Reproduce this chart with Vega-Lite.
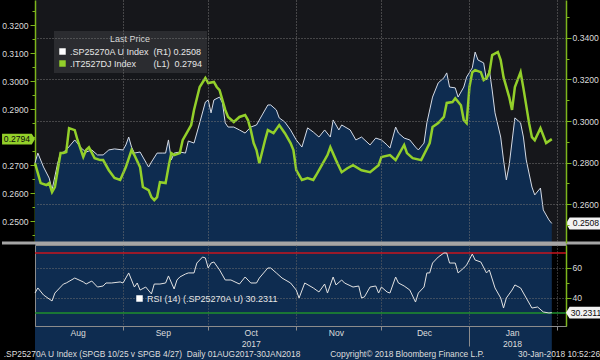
{
"$schema": "https://vega.github.io/schema/vega-lite/v6.json",
"background": "#000000",
"padding": 0,
"autosize": {"type": "pad"},
"bounds": "flush",
"spacing": 2,
"config": {
  "font": "Liberation Sans, Arial, sans-serif",
  "view": {"stroke": null},
  "axis": {"labelColor": "#dcdcdc", "labelFontSize": 8.6, "title": null}
},
"datasets": {
"sp": [{"date":"2017/08/01","value":0.2798},{"date":"2017/08/02","value":0.2846},{"date":"2017/08/04","value":0.2779},{"date":"2017/08/06","value":0.2726},{"date":"2017/08/07","value":0.2669},{"date":"2017/08/09","value":0.2798},{"date":"2017/08/10","value":0.2846},{"date":"2017/08/11","value":0.2851},{"date":"2017/08/12","value":0.2861},{"date":"2017/08/15","value":0.2909},{"date":"2017/08/17","value":0.2875},{"date":"2017/08/18","value":0.2861},{"date":"2017/08/19","value":0.2851},{"date":"2017/08/21","value":0.2861},{"date":"2017/08/23","value":0.2837},{"date":"2017/08/25","value":0.2837},{"date":"2017/08/27","value":0.2861},{"date":"2017/08/29","value":0.2866},{"date":"2017/09/01","value":0.2861},{"date":"2017/09/02","value":0.2885},{"date":"2017/09/03","value":0.2923},{"date":"2017/09/04","value":0.2875},{"date":"2017/09/05","value":0.2846},{"date":"2017/09/07","value":0.2851},{"date":"2017/09/08","value":0.2827},{"date":"2017/09/10","value":0.2779},{"date":"2017/09/11","value":0.2803},{"date":"2017/09/13","value":0.2846},{"date":"2017/09/15","value":0.2846},{"date":"2017/09/16","value":0.2846},{"date":"2017/09/17","value":0.2909},{"date":"2017/09/18","value":0.2813},{"date":"2017/09/19","value":0.2846},{"date":"2017/09/21","value":0.2851},{"date":"2017/09/23","value":0.2846},{"date":"2017/09/24","value":0.2904},{"date":"2017/09/26","value":0.2894},{"date":"2017/09/28","value":0.2991},{"date":"2017/09/30","value":0.3091},{"date":"2017/10/01","value":0.3101},{"date":"2017/10/02","value":0.3039},{"date":"2017/10/03","value":0.3101},{"date":"2017/10/05","value":0.3115},{"date":"2017/10/06","value":0.3087},{"date":"2017/10/07","value":0.2991},{"date":"2017/10/08","value":0.2971},{"date":"2017/10/10","value":0.2971},{"date":"2017/10/12","value":0.2957},{"date":"2017/10/14","value":0.2942},{"date":"2017/10/15","value":0.2957},{"date":"2017/10/16","value":0.2971},{"date":"2017/10/18","value":0.2981},{"date":"2017/10/20","value":0.3029},{"date":"2017/10/22","value":0.3077},{"date":"2017/10/23","value":0.3077},{"date":"2017/10/25","value":0.3053},{"date":"2017/10/26","value":0.3015},{"date":"2017/10/28","value":0.2995},{"date":"2017/10/30","value":0.2957},{"date":"2017/11/01","value":0.2909},{"date":"2017/11/03","value":0.2875},{"date":"2017/11/05","value":0.2967},{"date":"2017/11/07","value":0.2947},{"date":"2017/11/09","value":0.2923},{"date":"2017/11/11","value":0.2957},{"date":"2017/11/13","value":0.2923},{"date":"2017/11/14","value":0.3005},{"date":"2017/11/16","value":0.2957},{"date":"2017/11/17","value":0.2981},{"date":"2017/11/20","value":0.2957},{"date":"2017/11/22","value":0.2909},{"date":"2017/11/24","value":0.2923},{"date":"2017/11/27","value":0.2885},{"date":"2017/11/29","value":0.2918},{"date":"2017/12/01","value":0.2909},{"date":"2017/12/03","value":0.2885},{"date":"2017/12/04","value":0.2870},{"date":"2017/12/06","value":0.2971},{"date":"2017/12/07","value":0.2942},{"date":"2017/12/09","value":0.2918},{"date":"2017/12/11","value":0.2909},{"date":"2017/12/13","value":0.2875},{"date":"2017/12/14","value":0.2861},{"date":"2017/12/16","value":0.2894},{"date":"2017/12/17","value":0.2991},{"date":"2017/12/19","value":0.3115},{"date":"2017/12/21","value":0.3183},{"date":"2017/12/23","value":0.3207},{"date":"2017/12/24","value":0.3231},{"date":"2017/12/25","value":0.3163},{"date":"2017/12/27","value":0.3159},{"date":"2017/12/28","value":0.3115},{"date":"2017/12/30","value":0.3163},{"date":"2017/12/31","value":0.3211},{"date":"2018/01/02","value":0.3255},{"date":"2018/01/03","value":0.3331},{"date":"2018/01/04","value":0.3293},{"date":"2018/01/06","value":0.3279},{"date":"2018/01/07","value":0.3197},{"date":"2018/01/08","value":0.3245},{"date":"2018/01/09","value":0.3149},{"date":"2018/01/10","value":0.3039},{"date":"2018/01/12","value":0.2923},{"date":"2018/01/13","value":0.2813},{"date":"2018/01/14","value":0.2717},{"date":"2018/01/15","value":0.2789},{"date":"2018/01/17","value":0.3015},{"date":"2018/01/19","value":0.2991},{"date":"2018/01/20","value":0.2923},{"date":"2018/01/21","value":0.2813},{"date":"2018/01/23","value":0.2683},{"date":"2018/01/24","value":0.2645},{"date":"2018/01/26","value":0.2678},{"date":"2018/01/27","value":0.2573},{"date":"2018/01/29","value":0.2525},{"date":"2018/01/30","value":0.2508}],
"it": [{"date":"2017/08/01","value":0.2708},{"date":"2017/08/03","value":0.2637},{"date":"2017/08/05","value":0.2630},{"date":"2017/08/06","value":0.2637},{"date":"2017/08/07","value":0.2605},{"date":"2017/08/08","value":0.2623},{"date":"2017/08/10","value":0.2744},{"date":"2017/08/11","value":0.2744},{"date":"2017/08/12","value":0.2748},{"date":"2017/08/13","value":0.2833},{"date":"2017/08/15","value":0.2826},{"date":"2017/08/16","value":0.2790},{"date":"2017/08/18","value":0.2730},{"date":"2017/08/19","value":0.2755},{"date":"2017/08/20","value":0.2765},{"date":"2017/08/22","value":0.2726},{"date":"2017/08/24","value":0.2719},{"date":"2017/08/25","value":0.2719},{"date":"2017/08/27","value":0.2683},{"date":"2017/08/29","value":0.2655},{"date":"2017/08/31","value":0.2648},{"date":"2017/09/02","value":0.2694},{"date":"2017/09/04","value":0.2755},{"date":"2017/09/05","value":0.2737},{"date":"2017/09/07","value":0.2694},{"date":"2017/09/08","value":0.2623},{"date":"2017/09/10","value":0.2612},{"date":"2017/09/11","value":0.2587},{"date":"2017/09/12","value":0.2576},{"date":"2017/09/13","value":0.2587},{"date":"2017/09/14","value":0.2640},{"date":"2017/09/16","value":0.2637},{"date":"2017/09/17","value":0.2694},{"date":"2017/09/18","value":0.2744},{"date":"2017/09/19","value":0.2737},{"date":"2017/09/21","value":0.2744},{"date":"2017/09/22","value":0.2790},{"date":"2017/09/24","value":0.2826},{"date":"2017/09/25","value":0.2844},{"date":"2017/09/26","value":0.2898},{"date":"2017/09/28","value":0.2980},{"date":"2017/09/30","value":0.3012},{"date":"2017/10/01","value":0.2994},{"date":"2017/10/03","value":0.2998},{"date":"2017/10/04","value":0.2980},{"date":"2017/10/05","value":0.2969},{"date":"2017/10/07","value":0.2898},{"date":"2017/10/08","value":0.2873},{"date":"2017/10/10","value":0.2855},{"date":"2017/10/12","value":0.2873},{"date":"2017/10/14","value":0.2880},{"date":"2017/10/15","value":0.2862},{"date":"2017/10/16","value":0.2826},{"date":"2017/10/17","value":0.2780},{"date":"2017/10/18","value":0.2755},{"date":"2017/10/19","value":0.2708},{"date":"2017/10/21","value":0.2790},{"date":"2017/10/22","value":0.2826},{"date":"2017/10/24","value":0.2815},{"date":"2017/10/26","value":0.2844},{"date":"2017/10/28","value":0.2815},{"date":"2017/10/30","value":0.2780},{"date":"2017/10/31","value":0.2755},{"date":"2017/11/01","value":0.2683},{"date":"2017/11/03","value":0.2648},{"date":"2017/11/05","value":0.2655},{"date":"2017/11/07","value":0.2648},{"date":"2017/11/08","value":0.2665},{"date":"2017/11/10","value":0.2701},{"date":"2017/11/12","value":0.2737},{"date":"2017/11/13","value":0.2765},{"date":"2017/11/15","value":0.2719},{"date":"2017/11/17","value":0.2676},{"date":"2017/11/19","value":0.2690},{"date":"2017/11/21","value":0.2701},{"date":"2017/11/24","value":0.2683},{"date":"2017/11/27","value":0.2676},{"date":"2017/11/30","value":0.2701},{"date":"2017/12/01","value":0.2730},{"date":"2017/12/04","value":0.2737},{"date":"2017/12/06","value":0.2719},{"date":"2017/12/09","value":0.2773},{"date":"2017/12/10","value":0.2744},{"date":"2017/12/12","value":0.2726},{"date":"2017/12/15","value":0.2719},{"date":"2017/12/18","value":0.2780},{"date":"2017/12/19","value":0.2837},{"date":"2017/12/21","value":0.2851},{"date":"2017/12/23","value":0.2873},{"date":"2017/12/24","value":0.2923},{"date":"2017/12/26","value":0.2926},{"date":"2017/12/27","value":0.2940},{"date":"2017/12/29","value":0.2915},{"date":"2017/12/30","value":0.2862},{"date":"2017/12/31","value":0.2851},{"date":"2018/01/01","value":0.2980},{"date":"2018/01/02","value":0.3033},{"date":"2018/01/03","value":0.3040},{"date":"2018/01/05","value":0.3033},{"date":"2018/01/06","value":0.3005},{"date":"2018/01/07","value":0.3012},{"date":"2018/01/08","value":0.3030},{"date":"2018/01/09","value":0.3094},{"date":"2018/01/11","value":0.3105},{"date":"2018/01/12","value":0.3076},{"date":"2018/01/13","value":0.3015},{"date":"2018/01/15","value":0.2944},{"date":"2018/01/16","value":0.2898},{"date":"2018/01/17","value":0.2980},{"date":"2018/01/19","value":0.3033},{"date":"2018/01/20","value":0.2976},{"date":"2018/01/22","value":0.2851},{"date":"2018/01/23","value":0.2801},{"date":"2018/01/24","value":0.2790},{"date":"2018/01/26","value":0.2833},{"date":"2018/01/28","value":0.2780},{"date":"2018/01/30","value":0.2794}],
"rsi": [{"date":"2017/08/01","value":43.3},{"date":"2017/08/02","value":46.7},{"date":"2017/08/04","value":42.0},{"date":"2017/08/07","value":38.0},{"date":"2017/08/08","value":43.3},{"date":"2017/08/11","value":49.3},{"date":"2017/08/12","value":50.0},{"date":"2017/08/15","value":53.3},{"date":"2017/08/18","value":50.7},{"date":"2017/08/19","value":49.3},{"date":"2017/08/21","value":51.3},{"date":"2017/08/23","value":47.3},{"date":"2017/08/25","value":48.0},{"date":"2017/08/26","value":50.0},{"date":"2017/08/28","value":50.0},{"date":"2017/08/31","value":50.7},{"date":"2017/09/01","value":50.0},{"date":"2017/09/03","value":56.7},{"date":"2017/09/05","value":47.3},{"date":"2017/09/06","value":50.0},{"date":"2017/09/07","value":45.3},{"date":"2017/09/09","value":47.3},{"date":"2017/09/11","value":42.7},{"date":"2017/09/12","value":49.3},{"date":"2017/09/14","value":49.3},{"date":"2017/09/16","value":50.0},{"date":"2017/09/17","value":54.7},{"date":"2017/09/19","value":46.0},{"date":"2017/09/20","value":52.0},{"date":"2017/09/21","value":54.0},{"date":"2017/09/23","value":56.0},{"date":"2017/09/24","value":56.7},{"date":"2017/09/26","value":56.7},{"date":"2017/09/27","value":63.3},{"date":"2017/09/29","value":67.3},{"date":"2017/09/30","value":66.7},{"date":"2017/10/01","value":60.0},{"date":"2017/10/02","value":63.3},{"date":"2017/10/03","value":64.0},{"date":"2017/10/05","value":58.7},{"date":"2017/10/07","value":52.0},{"date":"2017/10/09","value":52.0},{"date":"2017/10/12","value":49.3},{"date":"2017/10/14","value":54.0},{"date":"2017/10/16","value":50.0},{"date":"2017/10/18","value":50.0},{"date":"2017/10/19","value":53.3},{"date":"2017/10/22","value":60.0},{"date":"2017/10/23","value":60.0},{"date":"2017/10/25","value":56.7},{"date":"2017/10/27","value":53.3},{"date":"2017/10/30","value":50.0},{"date":"2017/11/01","value":45.3},{"date":"2017/11/02","value":40.0},{"date":"2017/11/04","value":50.0},{"date":"2017/11/07","value":46.7},{"date":"2017/11/09","value":44.0},{"date":"2017/11/11","value":49.3},{"date":"2017/11/12","value":43.3},{"date":"2017/11/14","value":54.0},{"date":"2017/11/15","value":48.7},{"date":"2017/11/17","value":52.0},{"date":"2017/11/18","value":50.0},{"date":"2017/11/21","value":47.3},{"date":"2017/11/23","value":48.0},{"date":"2017/11/24","value":40.0},{"date":"2017/11/25","value":40.7},{"date":"2017/11/27","value":47.3},{"date":"2017/11/29","value":48.0},{"date":"2017/11/30","value":43.3},{"date":"2017/12/01","value":47.3},{"date":"2017/12/03","value":44.0},{"date":"2017/12/04","value":43.3},{"date":"2017/12/06","value":54.0},{"date":"2017/12/07","value":50.0},{"date":"2017/12/09","value":48.0},{"date":"2017/12/11","value":45.3},{"date":"2017/12/13","value":37.3},{"date":"2017/12/14","value":43.3},{"date":"2017/12/16","value":47.3},{"date":"2017/12/17","value":56.7},{"date":"2017/12/18","value":56.7},{"date":"2017/12/19","value":63.3},{"date":"2017/12/21","value":67.3},{"date":"2017/12/23","value":70.0},{"date":"2017/12/24","value":70.0},{"date":"2017/12/25","value":63.3},{"date":"2017/12/27","value":63.3},{"date":"2017/12/28","value":56.7},{"date":"2017/12/30","value":60.0},{"date":"2017/12/31","value":62.0},{"date":"2018/01/02","value":69.3},{"date":"2018/01/03","value":65.3},{"date":"2018/01/05","value":64.0},{"date":"2018/01/07","value":56.7},{"date":"2018/01/08","value":58.7},{"date":"2018/01/10","value":46.7},{"date":"2018/01/12","value":40.0},{"date":"2018/01/13","value":33.3},{"date":"2018/01/14","value":40.0},{"date":"2018/01/16","value":45.3},{"date":"2018/01/17","value":48.7},{"date":"2018/01/19","value":46.7},{"date":"2018/01/21","value":40.0},{"date":"2018/01/23","value":33.3},{"date":"2018/01/25","value":34.0},{"date":"2018/01/27","value":30.7},{"date":"2018/01/29","value":30.0},{"date":"2018/01/30","value":30.23}]
},
"vconcat": [
{
  "width": 531,
  "height": 243,
  "view": {"fill": "#16171b", "stroke": null},
  "layer": [
    {
      "data": {"name": "sp"},
      "layer": [
        {
          "mark": {"type": "area", "color": "#0e2c50"},
          "encoding": {
            "x": {"field": "date", "type": "temporal", "scale": {"domain": [{"year":2017,"month":8,"date":1},{"year":2018,"month":2,"date":4}], "nice": false},
                  "axis": {"values": [{"year":2017,"month":9,"date":1},{"year":2017,"month":10,"date":1},{"year":2017,"month":11,"date":1},{"year":2017,"month":12,"date":1},{"year":2018,"month":1,"date":1},{"year":2018,"month":2,"date":1}],
                           "labels": false, "ticks": false, "grid": true, "gridDash": [1,2], "gridColor": "#767676", "domain": true, "domainColor": "#a5a5a5", "domainWidth": 3, "title": null, "zindex": 1}},
            "y": {"field": "value", "type": "quantitative", "scale": {"domain": [0.24142, 0.3581], "zero": false, "nice": false},
                  "axis": {"orient": "right", "values": [0.25, 0.26, 0.27, 0.28, 0.29, 0.30, 0.31, 0.32, 0.33, 0.34, 0.35], "format": ".4f",
                           "labelExpr": "round(datum.value * 100) % 2 == 0 ? datum.label : ''",
                           "grid": true, "gridDash": [1,2], "gridColor": "#767676",
                           "gridOpacity": {"condition": {"test": "round(datum.value * 100) % 2 == 0", "value": 1}, "value": 0},
                           "domainColor": "#7db61c", "domainWidth": 1.5, "tickColor": "#7db61c",
                           "tickSize": {"condition": {"test": "round(datum.value * 100) % 2 == 0", "value": 5}, "value": 3},
                           "labelPadding": 1, "labelOverlap": false, "title": null, "zindex": 1}}
          }
        },
        {
          "mark": {"type": "line", "color": "#d5dbe6", "strokeWidth": 1},
          "encoding": {
            "x": {"field": "date", "type": "temporal", "scale": {"domain": [{"year":2017,"month":8,"date":1},{"year":2018,"month":2,"date":4}], "nice": false},
                  "axis": {"values": [{"year":2017,"month":9,"date":1},{"year":2017,"month":10,"date":1},{"year":2017,"month":11,"date":1},{"year":2017,"month":12,"date":1},{"year":2018,"month":1,"date":1},{"year":2018,"month":2,"date":1}],
                           "labels": false, "ticks": false, "grid": true, "gridDash": [1,2], "gridColor": "#767676", "domain": true, "domainColor": "#a5a5a5", "domainWidth": 3, "title": null, "zindex": 1}},
            "y": {"field": "value", "type": "quantitative", "scale": {"domain": [0.24142, 0.3581], "zero": false, "nice": false},
                  "axis": {"orient": "right", "values": [0.25, 0.26, 0.27, 0.28, 0.29, 0.30, 0.31, 0.32, 0.33, 0.34, 0.35], "format": ".4f",
                           "labelExpr": "round(datum.value * 100) % 2 == 0 ? datum.label : ''",
                           "grid": true, "gridDash": [1,2], "gridColor": "#767676",
                           "gridOpacity": {"condition": {"test": "round(datum.value * 100) % 2 == 0", "value": 1}, "value": 0},
                           "domainColor": "#7db61c", "domainWidth": 1.5, "tickColor": "#7db61c",
                           "tickSize": {"condition": {"test": "round(datum.value * 100) % 2 == 0", "value": 5}, "value": 3},
                           "labelPadding": 1, "labelOverlap": false, "title": null, "zindex": 1}}
          }
        }
      ]
    },
    {
      "data": {"name": "it"},
      "mark": {"type": "line", "color": "#93d02a", "strokeWidth": 2.5},
      "encoding": {
        "x": {"field": "date", "type": "temporal", "scale": {"domain": [{"year":2017,"month":8,"date":1},{"year":2018,"month":2,"date":4}], "nice": false}},
        "y": {"field": "value", "type": "quantitative", "scale": {"domain": [0.24232, 0.32904], "zero": false, "nice": false},
              "axis": {"orient": "left", "values": [0.245, 0.25, 0.255, 0.26, 0.265, 0.27, 0.275, 0.28, 0.285, 0.29, 0.295, 0.30, 0.305, 0.31, 0.315, 0.32, 0.325], "format": ".4f",
                       "labelExpr": "(round(datum.value * 1000) % 10 == 0 && round(datum.value * 1000) != 280) ? datum.label : ''",
                       "grid": false, "domainColor": "#7db61c", "domainWidth": 1.5, "tickColor": "#7db61c",
                       "tickSize": {"condition": {"test": "round(datum.value * 1000) % 10 == 0", "value": 5}, "value": 3},
                       "labelPadding": 2, "labelOverlap": false, "title": null}}
      }
    },
    {
      "data": {"values": [{}]},
      "layer": [
        {
          "mark": {"type": "rule", "color": "#a5a5a5", "strokeWidth": 3},
          "encoding": {
            "x": {"datum": {"year":2017,"month":7,"date":20,"hours":9}, "type": "temporal", "scale": {"domain": [{"year":2017,"month":8,"date":1},{"year":2018,"month":2,"date":4}], "nice": false}},
            "x2": {"datum": {"year":2018,"month":2,"date":16,"hours":17}},
            "y": {"datum": 0.24142, "type": "quantitative", "scale": {"domain": [0.24142, 0.3581], "zero": false, "nice": false}, "axis": null}
          }
        },
        {
          "mark": {"type": "point", "shape": "M-1,0L-0.8,-0.33L1,-0.33L1,0.33L-0.8,0.33Z", "filled": true, "size": 1296, "color": "#f2f2f2", "opacity": 1, "strokeWidth": 0},
          "encoding": {
            "x": {"datum": {"year":2018,"month":2,"date":10,"hours":8}, "type": "temporal", "scale": {"domain": [{"year":2017,"month":8,"date":1},{"year":2018,"month":2,"date":4}], "nice": false}},
            "y": {"datum": 0.2508, "type": "quantitative", "scale": {"domain": [0.24142, 0.3581], "zero": false, "nice": false}, "axis": null}
          }
        },
        {
          "mark": {"type": "text", "text": "0.2508", "color": "#0b0b0b", "fontSize": 8.6, "dx": 20, "align": "center", "baseline": "middle"},
          "encoding": {
            "x": {"datum": {"year":2018,"month":2,"date":4}, "type": "temporal", "scale": {"domain": [{"year":2017,"month":8,"date":1},{"year":2018,"month":2,"date":4}], "nice": false}},
            "y": {"datum": 0.2508, "type": "quantitative", "scale": {"domain": [0.24142, 0.3581], "zero": false, "nice": false}, "axis": null}
          }
        }
      ]
    },
    {
      "data": {"values": [{}]},
      "layer": [
        {
          "mark": {"type": "point", "shape": "M-1,-0.33L0.8,-0.33L1,0L0.8,0.33L-1,0.33Z", "filled": true, "size": 1089, "color": "#93d02a", "opacity": 1, "strokeWidth": 0},
          "encoding": {
            "x": {"datum": {"year":2017,"month":7,"date":26,"hours":5}, "type": "temporal", "scale": {"domain": [{"year":2017,"month":8,"date":1},{"year":2018,"month":2,"date":4}], "nice": false}},
            "y": {"datum": 0.2794, "type": "quantitative", "scale": {"domain": [0.24232, 0.32904], "zero": false, "nice": false}, "axis": null}
          }
        },
        {
          "mark": {"type": "text", "text": "0.2794", "color": "#0b0b0b", "fontSize": 8.6, "dx": -18, "align": "center", "baseline": "middle"},
          "encoding": {
            "x": {"datum": {"year":2017,"month":8,"date":1}, "type": "temporal", "scale": {"domain": [{"year":2017,"month":8,"date":1},{"year":2018,"month":2,"date":4}], "nice": false}},
            "y": {"datum": 0.2794, "type": "quantitative", "scale": {"domain": [0.24232, 0.32904], "zero": false, "nice": false}, "axis": null}
          }
        }
      ]
    },
    {
      "data": {"values": [{"series": ".SP25270A U Index\u00a0\u00a0(R1)\u00a00.2508"}, {"series": ".IT2527DJ Index\u00a0\u00a0\u00a0\u00a0\u00a0\u00a0\u00a0(L1)\u00a0\u00a00.2794"}]},
      "mark": {"type": "point", "shape": "square", "filled": true, "opacity": 0},
      "encoding": {
        "fill": {"field": "series", "type": "nominal",
                 "scale": {"domain": [".SP25270A U Index\u00a0\u00a0(R1)\u00a00.2508", ".IT2527DJ Index\u00a0\u00a0\u00a0\u00a0\u00a0\u00a0\u00a0(L1)\u00a0\u00a00.2794"], "range": ["#ffffff", "#93d02a"]},
                 "legend": {"orient": "none", "legendX": 19, "legendY": 31, "title": "Last Price", "titleAnchor": "middle", "titleColor": "#d9d9d9", "titleFontSize": 9, "titleFontWeight": "normal", "titlePadding": 3,
                            "labelColor": "#e6e6e6", "labelFontSize": 9, "labelLimit": 300, "labelOffset": 3, "symbolType": "square", "symbolSize": 42, "symbolOpacity": 1, "symbolStrokeWidth": 0,
                            "fillColor": "#2b2c30", "padding": 4, "rowPadding": 2}}
      }
    }
  ],
  "resolve": {"scale": {"y": "independent"}}
},
{
  "width": 531,
  "height": 81,
  "view": {"stroke": "#8c8c8c", "strokeWidth": 1},
  "layer": [
    {
      "data": {"values": [{}]},
      "mark": {"type": "rule", "color": "#c8141e", "strokeWidth": 1.5},
      "encoding": {"y": {"datum": 70, "type": "quantitative", "scale": {"domain": [21.33, 75.33], "zero": false, "nice": false}}}
    },
    {
      "data": {"values": [{}]},
      "mark": {"type": "rule", "color": "#1f8f2d", "strokeWidth": 1.5},
      "encoding": {"y": {"datum": 30, "type": "quantitative", "scale": {"domain": [21.33, 75.33], "zero": false, "nice": false}}}
    },
    {
      "data": {"name": "rsi"},
      "mark": {"type": "line", "color": "#e2e2e2", "strokeWidth": 1},
      "encoding": {
        "x": {"field": "date", "type": "temporal", "scale": {"domain": [{"year":2017,"month":8,"date":1},{"year":2018,"month":2,"date":4}], "nice": false},
              "axis": {"orient": "bottom", "values": [{"year":2017,"month":9,"date":1},{"year":2017,"month":10,"date":1},{"year":2017,"month":11,"date":1},{"year":2017,"month":12,"date":1},{"year":2018,"month":1,"date":1},{"year":2018,"month":2,"date":1}],
                       "labels": false, "ticks": true, "tickColor": "#8c8c8c",
                       "tickSize": {"condition": {"test": "month(datum.value) == 0", "value": 20}, "value": 4},
                       "grid": true, "gridDash": [1,2], "gridColor": "#666666", "domain": true, "domainColor": "#8c8c8c", "title": null}},
        "y": {"field": "value", "type": "quantitative", "scale": {"domain": [21.33, 75.33], "zero": false, "nice": false},
              "axis": {"orient": "right", "values": [40, 50, 60], "labelExpr": "datum.value == 50 ? '' : datum.label",
                       "grid": true, "gridDash": [1,2], "gridColor": "#707070",
                       "gridOpacity": {"condition": {"test": "datum.value == 50", "value": 0}, "value": 1},
                       "domainColor": "#7db61c", "domainWidth": 1.5, "tickColor": "#7db61c",
                       "tickSize": {"condition": {"test": "datum.value == 50", "value": 3}, "value": 5},
                       "labelPadding": 1, "title": null}}
      }
    },
    {
      "data": {"name": "rsi"},
      "mark": {"type": "line", "opacity": 0},
      "encoding": {
        "x": {"field": "date", "type": "temporal", "scale": {"domain": [{"year":2017,"month":8,"date":1},{"year":2018,"month":2,"date":4}], "nice": false},
              "axis": {"orient": "bottom", "values": [{"year":2017,"month":8,"date":16},{"year":2017,"month":9,"date":15},{"year":2017,"month":10,"date":16},{"year":2017,"month":11,"date":15},{"year":2017,"month":12,"date":16},{"year":2018,"month":1,"date":16}],
                       "ticks": false, "domain": false, "grid": false,
                       "labelExpr": "timeFormat(datum.value, '%b') == 'Oct' ? ['Oct', '2017'] : (timeFormat(datum.value, '%b') == 'Jan' ? ['Jan', '2018'] : timeFormat(datum.value, '%b'))",
                       "labelPadding": 2, "labelLineHeight": 11, "labelFlush": false, "labelOverlap": false, "labelColor": "#dcdcdc", "title": null}},
        "y": {"field": "value", "type": "quantitative", "scale": {"domain": [21.33, 75.33], "zero": false, "nice": false}}
      }
    },
    {
      "data": {"values": [{}]},
      "mark": {"type": "point", "shape": "M-1,0L-0.8,-0.33L1,-0.33L1,0.33L-0.8,0.33Z", "filled": true, "size": 1296, "color": "#f2f2f2", "opacity": 1, "strokeWidth": 0},
      "encoding": {
        "x": {"datum": {"year":2018,"month":2,"date":10,"hours":8}, "type": "temporal", "scale": {"domain": [{"year":2017,"month":8,"date":1},{"year":2018,"month":2,"date":4}], "nice": false}, "axis": null},
        "y": {"datum": 30.2311, "type": "quantitative", "scale": {"domain": [21.33, 75.33], "zero": false, "nice": false}}
      }
    },
    {
      "data": {"values": [{}]},
      "mark": {"type": "text", "text": "30.2311", "color": "#0b0b0b", "fontSize": 8.6, "dx": 20, "align": "center", "baseline": "middle"},
      "encoding": {
        "x": {"datum": {"year":2018,"month":2,"date":4}, "type": "temporal", "scale": {"domain": [{"year":2017,"month":8,"date":1},{"year":2018,"month":2,"date":4}], "nice": false}, "axis": null},
        "y": {"datum": 30.2311, "type": "quantitative", "scale": {"domain": [21.33, 75.33], "zero": false, "nice": false}}
      }
    },
    {
      "data": {"values": [{"series": "RSI (14) (.SP25270A U) 30.2311"}]},
      "mark": {"type": "point", "shape": "square", "filled": true, "opacity": 0},
      "encoding": {
        "fill": {"field": "series", "type": "nominal", "scale": {"range": ["#ffffff"]},
                 "legend": {"orient": "none", "legendX": 100, "legendY": 49, "title": null, "labelColor": "#e6e6e6", "labelFontSize": 9, "labelLimit": 300, "labelOffset": 3,
                            "symbolType": "square", "symbolSize": 42, "symbolOpacity": 1, "symbolStrokeWidth": 0, "padding": 0}}
      }
    },
    {
      "data": {"values": [{}]},
      "mark": {"type": "text", "text": ".SP25270A U Index (SPGB 10/25 v SPGB 4/27)\u00a0\u00a0Daily 01AUG2017-30JAN2018", "align": "left", "baseline": "middle", "color": "#dedede", "fontSize": 8.4},
      "encoding": {
        "x": {"datum": {"year":2017,"month":7,"date":21}, "type": "temporal", "scale": {"domain": [{"year":2017,"month":8,"date":1},{"year":2018,"month":2,"date":4}], "nice": false}, "axis": null},
        "y": {"datum": 2.67, "type": "quantitative", "scale": {"domain": [21.33, 75.33], "zero": false, "nice": false}}
      }
    },
    {
      "data": {"values": [{}]},
      "mark": {"type": "text", "text": "Copyright\u00a9 2018 Bloomberg Finance L.P.", "align": "left", "baseline": "middle", "color": "#dedede", "fontSize": 8.4},
      "encoding": {
        "x": {"datum": {"year":2017,"month":11,"date":13}, "type": "temporal", "scale": {"domain": [{"year":2017,"month":8,"date":1},{"year":2018,"month":2,"date":4}], "nice": false}, "axis": null},
        "y": {"datum": 2.67, "type": "quantitative", "scale": {"domain": [21.33, 75.33], "zero": false, "nice": false}}
      }
    },
    {
      "data": {"values": [{}]},
      "mark": {"type": "text", "text": "30-Jan-2018 10:52:26", "align": "right", "baseline": "middle", "color": "#dedede", "fontSize": 8.4},
      "encoding": {
        "x": {"datum": {"year":2018,"month":2,"date":16}, "type": "temporal", "scale": {"domain": [{"year":2017,"month":8,"date":1},{"year":2018,"month":2,"date":4}], "nice": false}, "axis": null},
        "y": {"datum": 2.67, "type": "quantitative", "scale": {"domain": [21.33, 75.33], "zero": false, "nice": false}}
      }
    }
  ],
  "resolve": {"axis": {"x": "independent"}}
}
],
"resolve": {"scale": {"fill": "independent"}, "legend": {"fill": "independent"}}
}
